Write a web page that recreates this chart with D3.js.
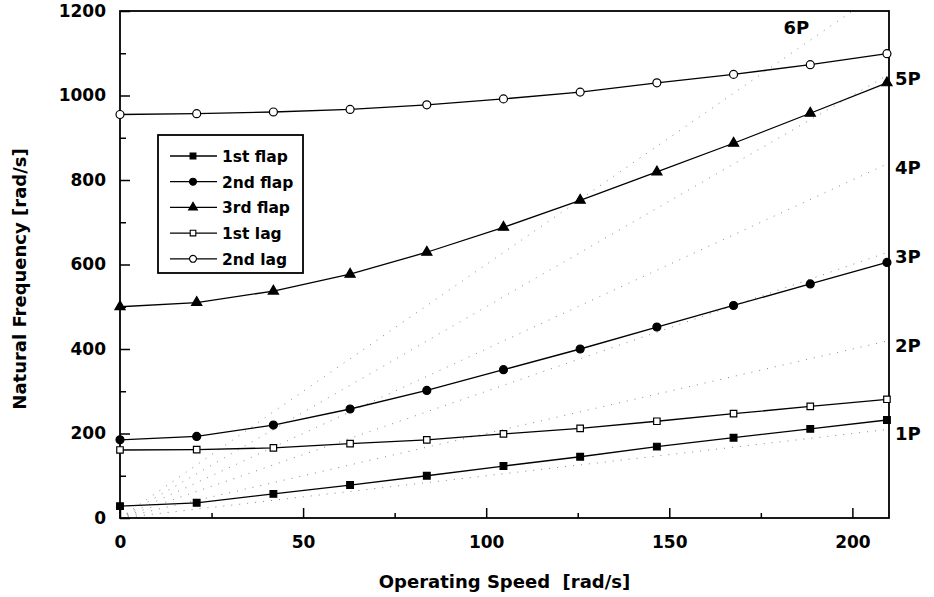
<!DOCTYPE html>
<html>
<head>
<meta charset="utf-8">
<script src="https://cdn.jsdelivr.net/npm/d3@7"></script>
<style>
  body { margin: 0; background: #fff; }
  svg { display: block; }
  text { font-family: "DejaVu Sans", Arial, sans-serif; fill: #000; }
</style>
</head>
<body>
<div id="chart"></div>
<script>
// Operating speed [rad/s] at which the frequencies were computed
const speed = [0, 20.94, 41.89, 62.83, 83.78, 104.72, 125.66, 146.61, 167.55, 188.5, 209.44];

// Natural frequencies [rad/s]
const flap1 = [28, 36, 57, 78, 100, 123, 145, 169, 190, 211, 232];
const flap2 = [185, 193, 220, 258, 302, 351, 400, 452, 503, 554, 605];
const flap3 = [500, 510, 537, 577, 629, 688, 752, 819, 887, 958, 1030];
const lag1 = [161, 162, 166, 176, 185, 199, 212, 229, 247, 264, 281];
const lag2 = [955, 957, 961, 967, 978, 992, 1008, 1030, 1050, 1073, 1099];

const seriesNames = ['1st flap', '2nd flap', '3rd flap', '1st lag', '2nd lag'];
const seriesValues = [flap1, flap2, flap3, lag1, lag2];

// Per-revolution excitation lines (nP)
const harmonics = [1, 2, 3, 4, 5, 6];

const xTicks = [0, 50, 100, 150, 200];
const xMinorTicks = [25, 75, 125, 175];
const yTicks = [0, 200, 400, 600, 800, 1000, 1200];
const yMinorTicks = [100, 300, 500, 700, 900, 1100];

function draw() {
  const W = 934, H = 597;
  const margin = { top: 11, right: 45, bottom: 79, left: 120 };
  const innerW = W - margin.left - margin.right;
  const innerH = H - margin.top - margin.bottom;

  const svg = d3.select('#chart').append('svg')
    .attr('width', W)
    .attr('height', H);

  const x = d3.scaleLinear().domain([0, 210]).range([margin.left, margin.left + innerW]);
  const y = d3.scaleLinear().domain([0, 1200]).range([margin.top + innerH, margin.top]);

  svg.append('clipPath').attr('id', 'plot-clip')
    .append('rect')
    .attr('x', margin.left).attr('y', margin.top)
    .attr('width', innerW).attr('height', innerH);

  // dotted nP lines
  svg.append('g')
    .attr('clip-path', 'url(#plot-clip)')
    .selectAll('line')
    .data(harmonics)
    .enter()
    .append('line')
    .attr('x1', x(0)).attr('y1', y(0))
    .attr('x2', x(210)).attr('y2', n => y(n * 210))
    .attr('stroke', '#888')
    .attr('stroke-width', 1)
    .attr('stroke-dasharray', '1 7');

  // nP labels
  svg.append('g')
    .selectAll('text')
    .data(harmonics)
    .enter()
    .append('text')
    .attr('x', n => n * 210 <= 1200 ? x(210) + 6 : x(1200 / n) - 69)
    .attr('y', n => n * 210 <= 1200 ? y(n * 210) + 11 : y(1200) + 23)
    .attr('font-size', 18)
    .attr('font-weight', 'bold')
    .text(n => n + 'P');

  // axes
  const fmt = d3.format('d');
  const styleTicks = g => {
    g.select('.domain').remove();
    g.attr('font-family', null).attr('font-size', null);
    g.selectAll('.tick line').attr('stroke', '#000').attr('stroke-width', 1.5);
    g.selectAll('.tick text')
      .attr('font-size', 17)
      .attr('font-weight', 'bold')
      .attr('fill', '#000');
  };
  svg.append('g')
    .attr('transform', `translate(0,${y(0)})`)
    .call(d3.axisBottom(x).tickValues(xTicks).tickSize(-10).tickSizeOuter(0).tickPadding(18).tickFormat(fmt))
    .call(styleTicks);
  svg.append('g')
    .attr('transform', `translate(0,${y(0)})`)
    .call(d3.axisBottom(x).tickValues(xMinorTicks).tickSize(-5).tickFormat(''))
    .call(styleTicks);
  svg.append('g')
    .attr('transform', `translate(${x(0)},0)`)
    .call(d3.axisLeft(y).tickValues(yTicks).tickSize(-10).tickSizeOuter(0).tickPadding(14).tickFormat(fmt))
    .call(styleTicks);
  svg.append('g')
    .attr('transform', `translate(${x(0)},0)`)
    .call(d3.axisLeft(y).tickValues(yMinorTicks).tickSize(-6).tickFormat(''))
    .call(styleTicks);

  // frame
  svg.append('rect')
    .attr('x', margin.left).attr('y', margin.top)
    .attr('width', innerW).attr('height', innerH)
    .attr('fill', 'none')
    .attr('stroke', '#000')
    .attr('stroke-width', 1.8);

  // series
  const symbols = [
    { type: d3.symbolSquare, size: 45, fill: '#000' },
    { type: d3.symbolCircle, size: 50, fill: '#000' },
    { type: d3.symbolTriangle, size: 45, fill: '#000' },
    { type: d3.symbolSquare, size: 42, fill: '#fff' },
    { type: d3.symbolCircle, size: 50, fill: '#fff' },
  ];

  const line = d3.line()
    .x(d => x(d[0]))
    .y(d => y(d[1]));

  seriesValues.forEach((vals, i) => {
    const pts = speed.map((s, j) => [s, vals[j]]);
    svg.append('path')
      .datum(pts)
      .attr('d', line)
      .attr('fill', 'none')
      .attr('stroke', '#000')
      .attr('stroke-width', 1.3);
    svg.append('g')
      .selectAll('path')
      .data(pts)
      .enter()
      .append('path')
      .attr('transform', d => `translate(${x(d[0])},${y(d[1])})`)
      .attr('d', d3.symbol().type(symbols[i].type).size(symbols[i].size))
      .attr('fill', symbols[i].fill)
      .attr('stroke', '#000')
      .attr('stroke-width', 1.2);
  });

  // legend
  const legend = svg.append('g').attr('transform', 'translate(158,135)');
  legend.append('rect')
    .attr('width', 145).attr('height', 138)
    .attr('fill', '#fff')
    .attr('stroke', '#000')
    .attr('stroke-width', 1.8);
  const rows = legend.selectAll('g.row')
    .data(seriesNames)
    .enter()
    .append('g')
    .attr('class', 'row')
    .attr('transform', (d, i) => `translate(0,${21 + i * 25.7})`);
  rows.append('line')
    .attr('x1', 12).attr('x2', 59)
    .attr('stroke', '#000').attr('stroke-width', 1.3);
  rows.append('path')
    .attr('transform', 'translate(35,0)')
    .attr('d', (d, i) => d3.symbol().type(symbols[i].type).size(symbols[i].size * 0.75)())
    .attr('fill', (d, i) => symbols[i].fill)
    .attr('stroke', '#000')
    .attr('stroke-width', 1.1);
  rows.append('text')
    .attr('x', 64).attr('y', 6)
    .attr('font-size', 15.5)
    .attr('font-weight', 'bold')
    .text(d => d);

  // axis titles
  svg.append('text')
    .attr('x', x(105)).attr('y', 588)
    .attr('text-anchor', 'middle')
    .attr('font-size', 18)
    .attr('font-weight', 'bold')
    .style('white-space', 'pre')
    .text('Operating Speed  [rad/s]');
  svg.append('text')
    .attr('transform', 'translate(26,279) rotate(-90)')
    .attr('text-anchor', 'middle')
    .attr('font-size', 18)
    .attr('font-weight', 'bold')
    .text('Natural Frequency [rad/s]');
}

document.addEventListener('DOMContentLoaded', draw);
</script>
</body>
</html>
